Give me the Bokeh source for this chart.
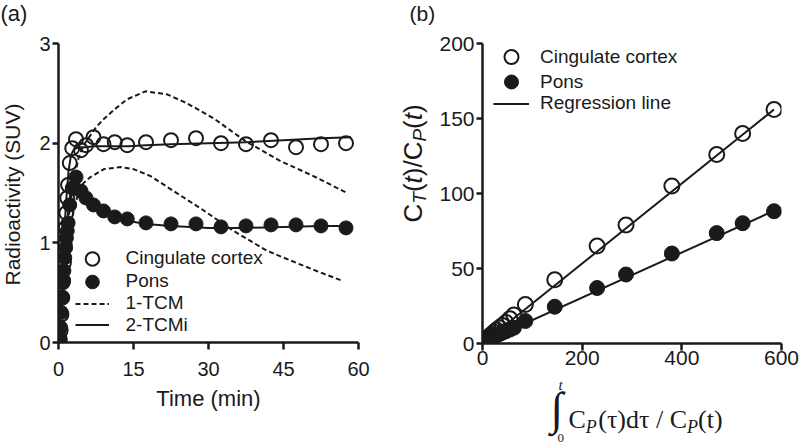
import numpy as np
from bokeh.plotting import figure
from bokeh.models import Range1d, FixedTicker, Legend, Label
from bokeh.layouts import row, column
from bokeh.embed import file_html
from bokeh.resources import INLINE

# ---------------- Panel (a): time-activity curves ----------------
time_min = [0.08, 0.25, 0.42, 0.58, 0.75, 0.92, 1.08, 1.25, 1.42, 1.58, 1.75, 1.92,
            2.25, 2.75, 3.5, 4.5, 5.5, 7.0, 9.0, 11.25, 13.75, 17.5, 22.5, 27.5,
            32.5, 37.5, 42.5, 47.5, 52.5, 57.5]
cing_suv = [0.00, 0.03, 0.12, 0.28, 0.45, 0.62, 0.80, 0.98, 1.15, 1.30, 1.45, 1.58,
            1.80, 1.95, 2.04, 1.93, 1.98, 2.06, 1.99, 2.01, 1.98, 2.01, 2.03, 2.05,
            2.00, 1.99, 2.03, 1.96, 1.99, 2.00]
pons_suv = [0.00, 0.05, 0.15, 0.30, 0.45, 0.60, 0.72, 0.85, 0.95, 1.05, 1.12, 1.20,
            1.38, 1.55, 1.66, 1.52, 1.45, 1.38, 1.32, 1.26, 1.24, 1.20, 1.19, 1.19,
            1.16, 1.17, 1.18, 1.18, 1.17, 1.15]

fit2_t = [0, 0.5, 1, 1.5, 2, 2.5, 3, 3.5, 4.5, 5.5, 7, 9, 11, 14, 17.5, 22.5, 30,
          37.5, 45, 52.5, 58.5]
cing_2tcmi = [0, 0.45, 0.95, 1.40, 1.72, 1.88, 1.93, 1.95, 1.96, 1.96, 1.97, 1.97,
              1.97, 1.97, 1.98, 1.99, 2.00, 2.01, 2.03, 2.05, 2.06]
pons_2tcmi = [0, 0.38, 0.75, 1.08, 1.35, 1.55, 1.64, 1.65, 1.55, 1.46, 1.37, 1.30,
              1.26, 1.22, 1.19, 1.17, 1.15, 1.15, 1.16, 1.17, 1.17]

cing_1tcm_t = [0, 1, 2, 3, 4, 5, 6, 7.5, 9, 11, 13.7, 17.4, 21.7, 25.7, 31, 37.4,
               44.4, 51, 57.7]
cing_1tcm = [0, 0.70, 1.25, 1.62, 1.85, 1.98, 2.05, 2.16, 2.24, 2.33, 2.44, 2.52,
             2.49, 2.40, 2.25, 2.02, 1.82, 1.67, 1.50]
pons_1tcm_t = [0, 1, 2, 3, 4, 5, 6.4, 9.1, 12.5, 15, 18.4, 23, 28.3, 35, 41.7, 48,
               52, 56.7]
pons_1tcm = [0, 0.60, 1.05, 1.33, 1.50, 1.60, 1.66, 1.74, 1.76, 1.74, 1.67, 1.52,
             1.35, 1.12, 0.92, 0.79, 0.71, 0.62]

a_xticks = [0, 15, 30, 45, 60]
a_yticks = [0, 1, 2, 3]

# ---------------- Panel (b): graphical analysis ----------------
plot_x = [0.5, 2, 4, 7, 10, 14, 18, 23, 28, 34, 40, 47, 55, 63, 86, 145, 230, 288,
          380, 470, 522, 585]
cing_ratio = [0.2, 0.8, 1.5, 2.5, 3.5, 4.8, 6.0, 7.5, 9.0, 10.5, 12.0, 14.0, 16.5,
              19.0, 26.0, 42.5, 65.0, 79.0, 105.0, 126.0, 140.0, 156.0]
pons_ratio = [0.3, 0.8, 1.2, 1.8, 2.4, 3.2, 4.0, 4.8, 5.5, 6.3, 7.2, 8.2, 9.3,
              10.5, 15.0, 24.5, 37.0, 46.0, 60.0, 73.6, 80.2, 88.2]
reg_x = [0, 585]
cing_reg = [0, 156]
pons_reg = [0.5, 88.5]

b_xticks = [0, 200, 400, 600]
b_yticks = [0, 50, 100, 150, 200]

FONT = "Liberation Sans"
SERIF = "Liberation Serif"
INK = "#1a1a1a"


def style(p, xticks, yticks, tsize):
    p.outline_line_color = None
    p.xgrid.visible = False
    p.ygrid.visible = False
    for ax, ticks in ((p.xaxis[0], xticks), (p.yaxis[0], yticks)):
        ax.ticker = FixedTicker(ticks=ticks)
        ax.axis_line_width = 2.5
        ax.axis_line_color = INK
        ax.major_tick_line_width = 2.5
        ax.major_tick_line_color = INK
        ax.minor_tick_line_color = None
        ax.major_tick_in = 0
        ax.major_label_text_font = FONT
        ax.major_label_text_font_size = tsize
        ax.major_label_text_color = INK
        ax.axis_label_text_font = FONT
        ax.axis_label_text_font_size = "22px"
        ax.axis_label_text_font_style = "normal"
        ax.axis_label_text_color = INK
    p.xaxis[0].major_tick_out = 7
    p.yaxis[0].major_tick_out = 6


def legend_row(p, label, rend, vx, vy, gw, standoff):
    p.add_layout(Legend(items=[(label, [rend])], location=(vx, vy),
                        glyph_width=gw, glyph_height=35, label_standoff=standoff,
                        padding=0, margin=0, spacing=0, border_line_color=None,
                        background_fill_alpha=0, label_text_font=FONT,
                        label_text_font_size="19px", label_text_color=INK))


def lab(p, text, x, y, size, font=FONT, fstyle="normal", align="left",
        baseline="middle", angle=0.0):
    p.add_layout(Label(x=x, y=y, x_units="screen", y_units="screen", text=text,
                       text_font=font, text_font_size=f"{size}px",
                       text_font_style=fstyle, text_color=INK, text_align=align,
                       text_baseline=baseline, angle=angle))


def strip(w, h):
    s = figure(width=w, height=h, x_range=Range1d(0, 1), y_range=Range1d(0, 1),
               x_axis_location=None, y_axis_location=None, output_backend="svg",
               toolbar_location=None, min_border=0, title=None)
    s.outline_line_color = None
    s.grid.visible = False
    return s


# ---------------- left strip of (a): panel letter and y label ----------------
al = strip(30, 445)
lab(al, "(a)", 0, 432.5, 22)
lab(al, "Radioactivity (SUV)", 12, 251, 21, align="center", angle=np.pi / 2)

# ---------------- figure (a) ----------------
pa = figure(width=360, height=445, x_range=Range1d(0, 60), y_range=Range1d(0, 3),
            output_backend="svg", toolbar_location=None, title=None,
            min_border_left=28, min_border_right=32, min_border_top=43,
            min_border_bottom=103)
style(pa, a_xticks, a_yticks, "20px")
pa.xaxis[0].major_label_standoff = 12
pa.yaxis[0].major_label_standoff = 2
pa.xaxis[0].axis_label = "Time (min)"
pa.xaxis[0].axis_label_standoff = 7

r_c1 = pa.line(cing_1tcm_t, cing_1tcm, line_color=INK, line_width=2, line_dash="5 3")
pa.line(pons_1tcm_t, pons_1tcm, line_color=INK, line_width=2, line_dash="5 3")
r_c2 = pa.line(fit2_t, cing_2tcmi, line_color=INK, line_width=2)
pa.line(fit2_t, pons_2tcmi, line_color=INK, line_width=2)
r_co = pa.scatter(time_min, cing_suv, marker="circle", size=14, fill_alpha=0,
                  line_color=INK, line_width=2)
r_pf = pa.scatter(time_min, pons_suv, marker="circle", size=14, fill_color=INK,
                  line_color=INK, line_width=1)

legend_row(pa, "Cingulate cortex", r_co, 16.5, 66.5, 34, 17)
legend_row(pa, "Pons", r_pf, 16.5, 43.5, 34, 17)
legend_row(pa, "1-TCM", r_c1, 16.5, 21.5, 34, 17)
legend_row(pa, "2-TCMi", r_c2, 16.5, 0, 34, 17)

# ---------------- figure (b) ----------------
pb = figure(width=364, height=375, x_range=Range1d(0, 600), y_range=Range1d(0, 200),
            output_backend="svg", toolbar_location=None, title=None,
            min_border_left=45, min_border_right=19, min_border_top=43,
            min_border_bottom=32)
style(pb, b_xticks, b_yticks, "21px")
pb.xaxis[0].major_label_standoff = 0
pb.yaxis[0].major_label_standoff = 2

r_reg = pb.line(reg_x, cing_reg, line_color=INK, line_width=2)
pb.line(reg_x, pons_reg, line_color=INK, line_width=2)
r_bo = pb.scatter(plot_x, cing_ratio, marker="circle", size=15, fill_alpha=0,
                  line_color=INK, line_width=2)
r_bf = pb.scatter(plot_x, pons_ratio, marker="circle", size=15, fill_color=INK,
                  line_color=INK, line_width=1)

legend_row(pb, "Cingulate cortex", r_bo, 11, 268.8, 36, 11)
legend_row(pb, "Pons", r_bf, 11, 243.8, 36, 11)
legend_row(pb, "Regression line", r_reg, 11, 222.2, 36, 11)

# left strip of (b): panel letter and rotated y label C_T(t)/C_P(t)
bl = strip(46, 375)
lab(bl, "(b)", 19, 362.5, 21)
adv = {"C": 0.722, "T": 0.611, "(": 0.333, ")": 0.333, "t": 0.278, "/": 0.278,
       "P": 0.667}
ypieces = [("C", 26, "normal", 0), ("T", 19, "italic", 7.4), ("(", 26, "normal", 0),
           ("t", 26, "italic", 0), (")/C", 26, "normal", 0), ("P", 19, "italic", 7.4),
           ("(", 26, "normal", 0), ("t", 26, "italic", 0), (")", 26, "normal", 0)]
ypos = 153.0
for txt, fs, st, dx in ypieces:
    lab(bl, txt, 22 + dx, ypos, fs, fstyle=st, angle=np.pi / 2)
    ypos += sum(adv[c] for c in txt) * fs

# bottom strip of (b): integral expression as x label
bb = strip(400, 70)
lab(bb, "\u222b", 160, 37, 46, font=SERIF)
lab(bb, "t", 168, 61, 15, font=SERIF, fstyle="italic")
lab(bb, "0", 167, 8, 13, font=SERIF)
lab(bb, "C", 178, 25.8, 26, font=SERIF)
lab(bb, "P", 195.3, 18.1, 18, font=SERIF, fstyle="italic")
lab(bb, "(\u03c4)d\u03c4 / C", 296.5, 25.8, 26, font=SERIF, align="right")
lab(bb, "P", 307.5, 18.1, 18, font=SERIF, fstyle="italic", align="right")
lab(bb, "(t)", 307.5, 25.8, 26, font=SERIF)

layout = row(column(al), pa, column(row(column(bl), pb), bb))
open("out.html", "w").write(file_html(layout, INLINE))
